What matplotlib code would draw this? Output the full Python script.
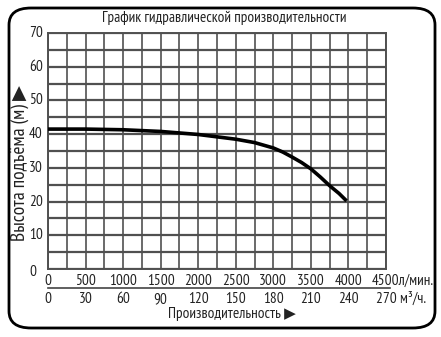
import matplotlib
matplotlib.use("Agg")
import matplotlib.pyplot as plt
from matplotlib.patches import FancyBboxPatch
from matplotlib import font_manager

# Data
flow_lpm = [0, 500, 1000, 1500, 2000, 2500, 2750, 3000, 3125, 3250, 3375, 3500, 3625, 3750, 3875, 3975]
head_m = [41.5, 41.5, 41.3, 40.8, 39.9, 38.5, 37.5, 35.9, 34.7, 33.2, 31.6, 29.7, 27.3, 24.7, 22.4, 20.2]
x_ticks_lpm = [0, 500, 1000, 1500, 2000, 2500, 3000, 3500, 4000, 4500]
x_ticks_m3h = [0, 30, 60, 90, 120, 150, 180, 210, 240, 270]
y_ticks = [0, 10, 20, 30, 40, 50, 60, 70]

names = {f.name for f in font_manager.fontManager.ttflist}
fam = 'DejaVu Sans'
for cand in ['PT Sans Narrow', 'Roboto Condensed', 'Fira Sans Extra Condensed',
             'Fira Sans Condensed', 'Ubuntu Condensed', 'Open Sans Condensed']:
    if cand in names:
        fam = cand
        break
plt.rcParams['font.family'] = [fam, 'DejaVu Sans']

W, H = 441, 337
fig = plt.figure(figsize=(W / 100, H / 100), dpi=100)
fig.patch.set_facecolor('white')

border = FancyBboxPatch((9 / W, 1 - 328 / H), (435 - 9) / W, (328 - 8) / H,
                        boxstyle="round,pad=0,rounding_size=0.05",
                        transform=fig.transFigure, fill=False, lw=2.0, ec='black')
fig.patches.append(border)

L, R, T, B = 48, 386, 33, 269
ax = fig.add_axes([L / W, 1 - B / H, (R - L) / W, (B - T) / H])
ax.set_xlim(0, 4500)
ax.set_ylim(0, 70)

gc = '#505050'
for x in range(0, 4501, 250):
    ax.axvline(x, color=gc, lw=1.2, zorder=1)
for y in range(0, 71, 5):
    ax.axhline(y, color=gc, lw=1.6, zorder=1)
for s in ax.spines.values():
    s.set_color(gc)
    s.set_linewidth(1.4)

ax.plot(flow_lpm, head_m, color='black', lw=2.6, zorder=3, solid_capstyle='butt')
ax.set_xticks([])
ax.set_yticks([])

fs = 11
tc = '#222222'
for v in y_ticks:
    if v == 0:
        ax.text(-150, v - 0.8, '0', ha='right', va='center', fontsize=fs, color=tc)
    else:
        ax.text(-70, v, str(v), ha='right', va='center', fontsize=fs, color=tc)

def fx(v):
    return L + (R - L) * v / 4500

for lab, m in zip(x_ticks_lpm, x_ticks_m3h):
    xp = fx(lab) / W
    if lab == x_ticks_lpm[-1]:
        t = fig.text(xp, 1 - 281 / H, str(lab), ha='center', va='center', fontsize=fs, color=tc)
        fig.canvas.draw()
        bb = t.get_window_extent()
        t.set_text(str(lab) + 'л/мин.')
        t.set_ha('left')
        t.set_x(bb.x0 / W)
        t2 = fig.text(xp, 1 - 299 / H, str(m), ha='center', va='center', fontsize=fs, color=tc)
        fig.canvas.draw()
        bb2 = t2.get_window_extent()
        t2.set_text(str(m) + ' м³/ч.')
        t2.set_ha('left')
        t2.set_x(bb2.x0 / W)
    else:
        fig.text(xp, 1 - 281 / H, str(lab), ha='center', va='center', fontsize=fs, color=tc)
        fig.text(xp, 1 - 299 / H, str(m), ha='center', va='center', fontsize=fs, color=tc)

fig.add_artist(plt.Line2D([L / W, 390 / W], [1 - 288 / H, 1 - 288 / H],
                          transform=fig.transFigure, color='#444', lw=1.2))

fig.text(224 / W, 1 - 18 / H, 'График гидравлической производительности', ha='center', va='center',
         fontsize=11, color=tc)
fig.text(232 / W, 1 - 314 / H, 'Производительность ▶', ha='center', va='center',
         fontsize=11, color=tc)
fig.text(20 / W, 1 - 163 / H, 'Высота подъёма (м) ▶', ha='center', va='center',
         rotation=90, fontsize=14, color=tc)

fig.savefig('out.png', dpi=100, facecolor='white')
